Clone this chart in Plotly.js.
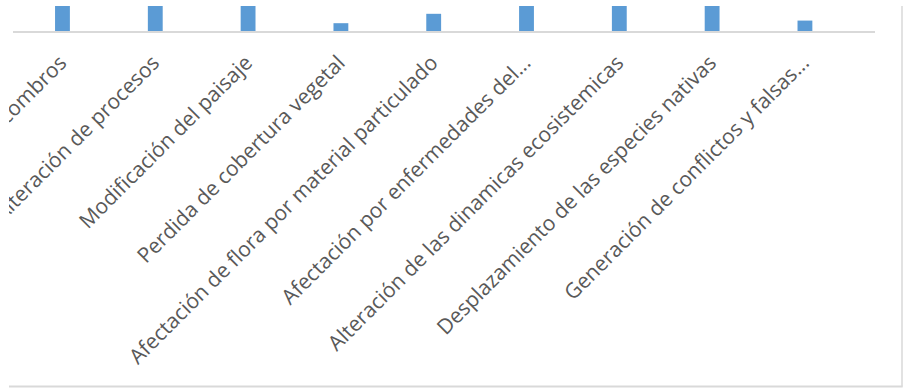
<!DOCTYPE html>
<html>
<head>
<meta charset="utf-8">
<script src="https://cdn.plot.ly/plotly-3.0.1.min.js"></script>
<style>html,body{margin:0;padding:0;background:#fff;}#chart{width:904px;height:389px;}</style>
</head>
<body>
<div id="chart"></div>
<script>
const categories = [
  "Escombros",
  "Alteración de procesos",
  "Modificación del paisaje",
  "Perdida de cobertura vegetal",
  "Afectación de flora por material particulado",
  "Afectación por enfermedades del...",
  "Alteración de las dinamicas ecosistemicas",
  "Desplazamiento de las especies nativas",
  "Generación de conflictos y falsas..."
];
const values = [10, 10, 10, 1.5, 3.3, 10, 10, 10, 2];

const trace = {
  type: "bar",
  x: categories,
  y: values,
  width: 0.16,
  marker: {color: "#5b9bd5"},
  hoverinfo: "none"
};

const plotW = 904 - 13 - 29, plotH = 389 - 6 - 358;
function px(x){ return (x - 13) / plotW; }
function py(y){ return (389 - 358 - y) / plotH; }

const layout = {
  width: 904,
  height: 389,
  margin: {l: 13, r: 29, t: 6, b: 358},
  paper_bgcolor: "#ffffff",
  plot_bgcolor: "#ffffff",
  showlegend: false,
  xaxis: {
    type: "category",
    range: [-0.533, 8.755],
    showline: true,
    linecolor: "#d9d9d9",
    linewidth: 2,
    showgrid: false,
    zeroline: false,
    ticks: "",
    tickangle: -45,
    automargin: false,
    ticklabelstandoff: 9,
    ticklabelshift: -2,
    tickfont: {family: "Open Sans, sans-serif", size: 21, color: "#595959"}
  },
  yaxis: {
    range: [0, 4.8],
    visible: false,
    showgrid: false,
    zeroline: false,
    fixedrange: true
  },
  shapes: [
    {type: "rect", xref: "paper", yref: "paper", layer: "above", x0: px(-5), x1: px(9), y0: py(34), y1: py(384), fillcolor: "#ffffff", line: {width: 0}},
    {type: "line", xref: "paper", yref: "paper", x0: px(902), x1: px(902), y0: py(6), y1: py(386.5), line: {color: "#d9d9d9", width: 1.5}},
    {type: "line", xref: "paper", yref: "paper", x0: px(9), x1: px(902.7), y0: py(386.5), y1: py(386.5), line: {color: "#d9d9d9", width: 2}}
  ]
};

Plotly.newPlot("chart", [trace], layout, {staticPlot: true, displayModeBar: false});
</script>
</body>
</html>
